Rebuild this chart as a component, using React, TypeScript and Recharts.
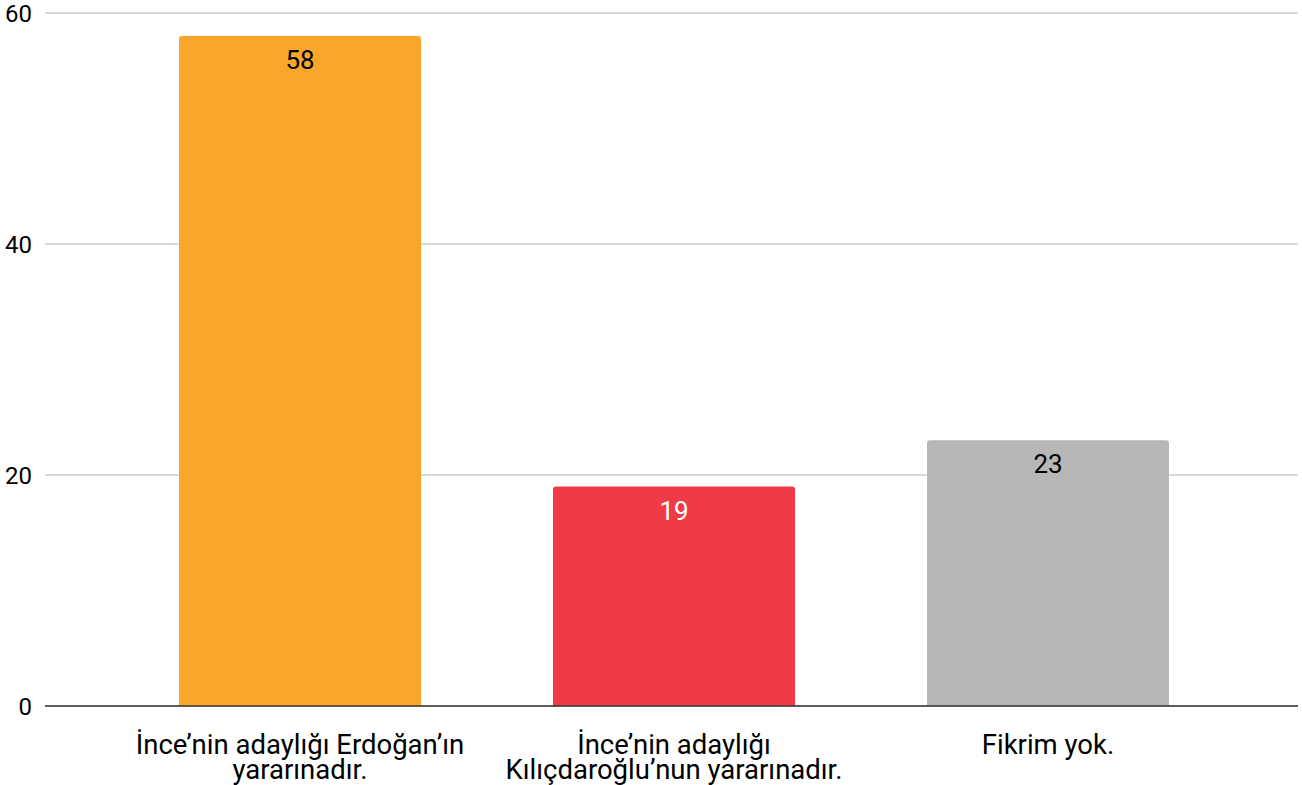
import React from 'react';
import { BarChart, Bar, XAxis, YAxis, CartesianGrid, Cell, LabelList } from 'recharts';

const categories = [
  'İnce’nin adaylığı Erdoğan’ın yararınadır.',
  'İnce’nin adaylığı Kılıçdaroğlu’nun yararınadır.',
  'Fikrim yok.',
];
const tickLines = [
  ['İnce’nin adaylığı Erdoğan’ın', 'yararınadır.'],
  ['İnce’nin adaylığı', 'Kılıçdaroğlu’nun yararınadır.'],
  ['Fikrim yok.'],
];
const values = [58, 19, 23];
const barColors = ['#F9A62B', '#EE3B47', '#B7B7B7'];
const labelColors = ['#000000', '#ffffff', '#000000'];
const yTicks = [0, 20, 40, 60];

const data = categories.map((name, i) => ({ name, value: values[i], idx: i }));

const FONT = 'Roboto, sans-serif';

// multi-line category label, one <text> with a tspan per line
const XTick = (props: any) => {
  const { x, y, index } = props;
  const lines = tickLines[index] || [];
  return (
    <text x={x} y={y + 40} textAnchor="middle" fill="#000" fontSize={27.5} fontFamily={FONT}>
      {lines.map((line, i) => (
        <tspan key={i} x={x} dy={i === 0 ? 0 : 25}>
          {line}
        </tspan>
      ))}
    </text>
  );
};

const ValueLabel = (props: any) => {
  const { x, y, width, value, index } = props;
  return (
    <text x={x + width / 2} y={y + 33} textAnchor="middle" fill={labelColors[index]} fontSize={26} fontFamily={FONT}>
      {value}
    </text>
  );
};

export default function App() {
  return (
    <div style={{ position: 'absolute', left: 0, top: 0, width: 1302, height: 785, background: '#fff' }}>
      <BarChart
        width={1302}
        height={785}
        data={data}
        margin={{ top: 13, right: 4, bottom: 0, left: 0 }}
        barCategoryGap={66}
      >
        <CartesianGrid vertical={false} stroke="#cccccc" strokeWidth={1.5} />
        <XAxis
          dataKey="name"
          padding={{ left: 68, right: 63 }}
          axisLine={{ stroke: '#333333', strokeWidth: 1.5 }}
          tickLine={false}
          tick={<XTick />}
          interval={0}
          height={79}
        />
        <YAxis
          domain={[0, 60]}
          ticks={yTicks}
          width={45}
          axisLine={false}
          tickLine={false}
          tickMargin={7}
          tick={{ fill: '#000', fontSize: 24, fontFamily: FONT }}
        />
        <Bar dataKey="value" isAnimationActive={false} radius={[3, 3, 0, 0]}>
          {data.map((d, i) => (
            <Cell key={`cell-${i}`} fill={barColors[i]} />
          ))}
          <LabelList dataKey="value" content={<ValueLabel />} />
        </Bar>
      </BarChart>
    </div>
  );
}
